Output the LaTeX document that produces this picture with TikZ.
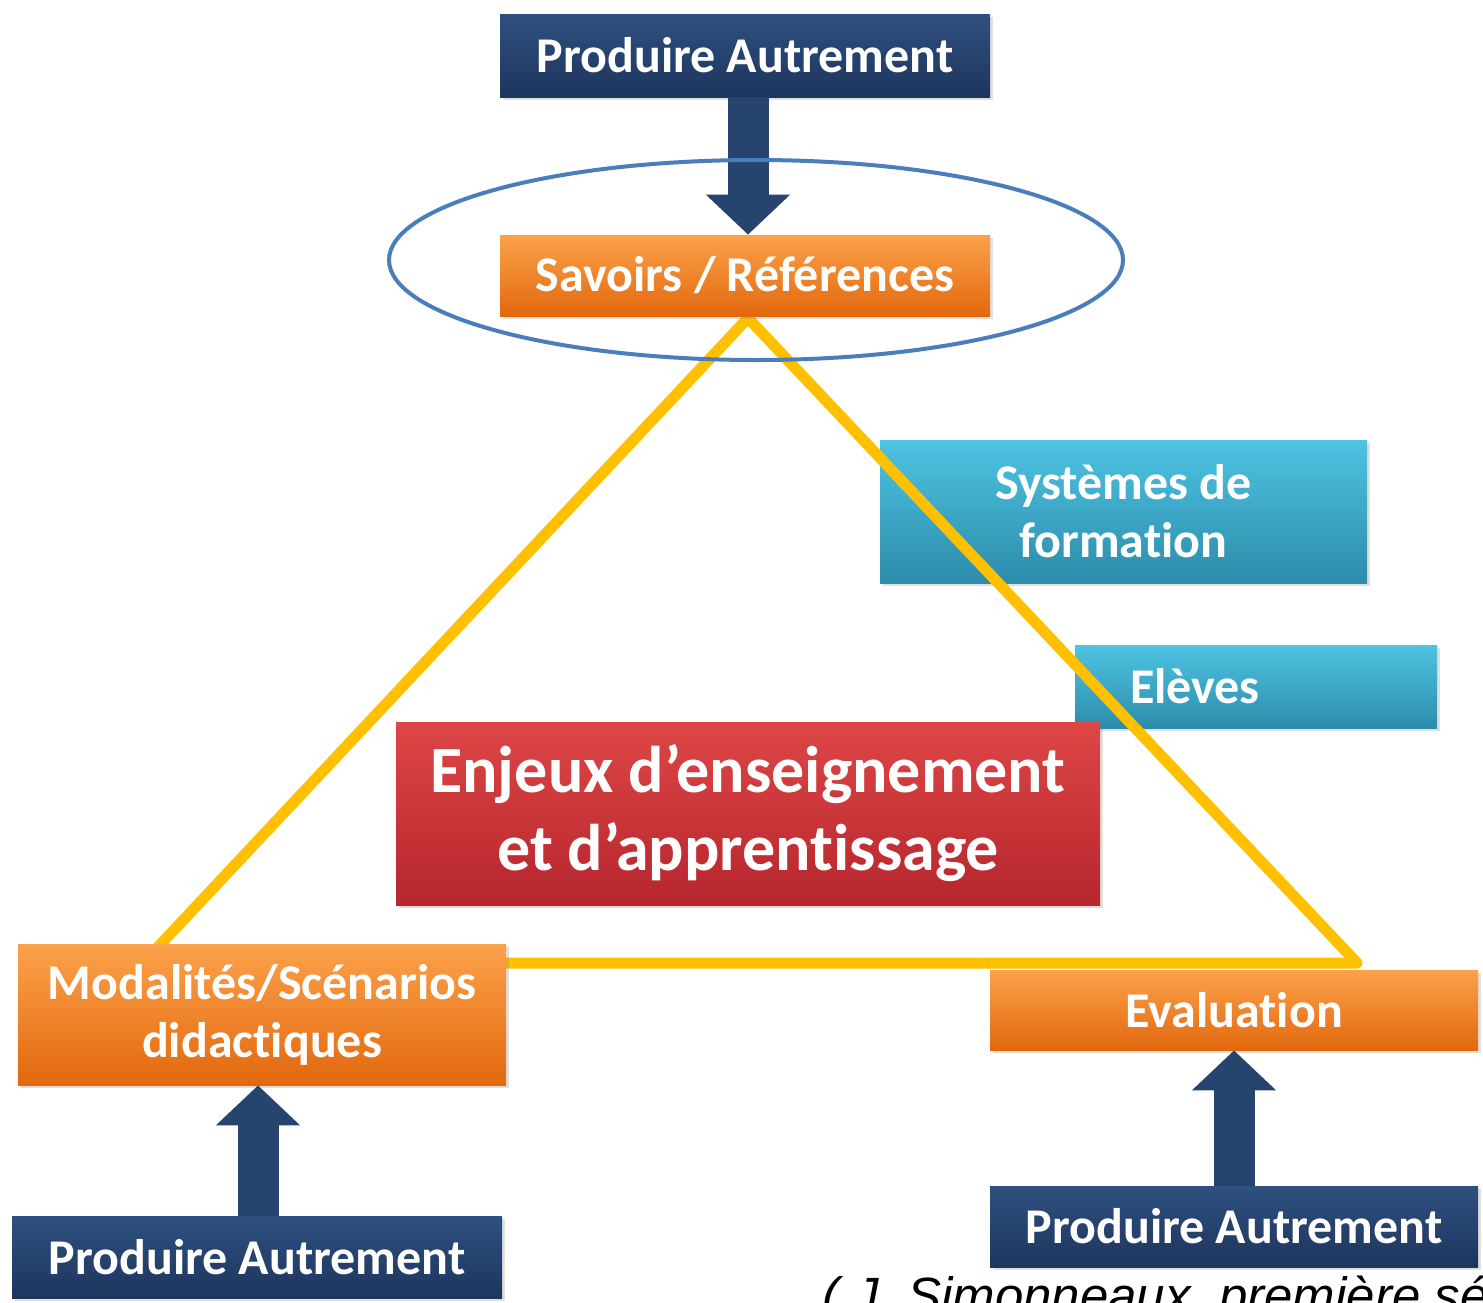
\documentclass[tikz,border=0pt]{standalone}
\usepackage{fontspec}
\setmainfont{Carlito}[Ligatures=NoCommon]
\newfontfamily\citefont{Liberation Sans}
\usetikzlibrary{arrows.meta,shadows}
\definecolor{navyT}{HTML}{2E5080}
\definecolor{navyB}{HTML}{1E355C}
\definecolor{navyA}{HTML}{27446E}
\definecolor{orT}{HTML}{FBA24A}
\definecolor{orB}{HTML}{E2680E}
\definecolor{cyT}{HTML}{4EC3E2}
\definecolor{cyB}{HTML}{2C8CAA}
\definecolor{rdT}{HTML}{DE4646}
\definecolor{rdB}{HTML}{B5262D}
\definecolor{yel}{HTML}{FFC000}
\definecolor{ell}{HTML}{4A7EBB}
\tikzset{
  boxbase/.style={rectangle, inner sep=0pt, align=center, text=white,
    font=\bfseries\fontsize{25}{29}\selectfont,
    drop shadow={opacity=0.25, shadow xshift=1.5pt, shadow yshift=-1.5pt}},
  navybox/.style={boxbase, top color=navyT, bottom color=navyB},
  orbox/.style={boxbase, top color=orT, bottom color=orB},
  cybox/.style={boxbase, top color=cyT, bottom color=cyB},
  redbox/.style={boxbase, top color=rdT, bottom color=rdB,
    font=\bfseries\fontsize{33}{39}\selectfont},
  fatarrow/.style={draw=navyA, line width=20.5pt,
    -{Triangle[length=20pt, width=41pt]}},
}
\begin{document}
\begin{tikzpicture}[x=0.5pt,y=-0.5pt]
\clip (0,0) rectangle (1483,1302);
\fill[white] (0,0) rectangle (1483,1302);

% cyan boxes (under the triangle)
\node[cybox, minimum width=243.5pt, minimum height=71.5pt] (sys) at (1123.5,511.5) {Systèmes de\\formation};
\node[cybox, minimum width=181pt, minimum height=41.5pt, text width=126pt, align=left, inner xsep=27.5pt] (elv) at (1256,686.5) {Elèves};

% triangle
\coordinate (apex) at (748,318);
\coordinate (bleft) at (143,963);
\coordinate (bright) at (1357,963);
\draw[yel, line width=5.5pt, line join=round] (apex) -- (bleft) -- (bright) -- cycle;

% boxes
\node[navybox, minimum width=245pt, minimum height=41.5pt] (top) at (745,55.5) {Produire Autrement};
\node[orbox, minimum width=245pt, minimum height=40.5pt] (sav) at (745,275.5) {Savoirs / Références};
\node[redbox, minimum width=352pt, minimum height=91.5pt] (enj) at (748,813.5) {Enjeux d’enseignement\\et d’apprentissage};
\node[orbox, minimum width=244pt, minimum height=70.5pt] (mod) at (262,1014.5) {Modalités/Scénarios\\didactiques};
\node[orbox, minimum width=244pt, minimum height=40pt] (ev) at (1234,1010) {Evaluation};
\node[navybox, minimum width=245pt, minimum height=41pt] (bl) at (257,1257) {Produire Autrement};
\node[navybox, minimum width=244pt, minimum height=40.5pt] (br) at (1234,1226.5) {Produire Autrement};

% arrows
\draw[fatarrow] (top.south -| 748,0) -- (sav.north -| 748,0);
\draw[fatarrow] (bl.north -| 258,0) -- (mod.south -| 258,0);
\draw[fatarrow] (br.north) -- (ev.south);

% ellipse
\draw[ell, line width=2pt] (756,260) ellipse [x radius=367, y radius=100];

% citation (cut by the picture's edge, as in the reference)
\node[anchor=base west, inner sep=0pt, font=\citefont\itshape\fontsize{25.5}{29}\selectfont] (cite) at (822,1313) {( J. Simonneaux, première sé};
\end{tikzpicture}
\end{document}
